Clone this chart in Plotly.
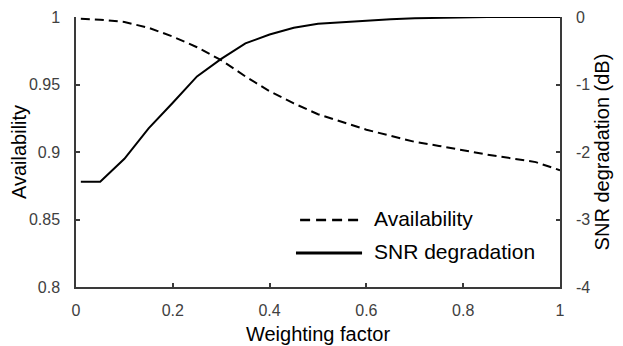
import plotly.graph_objects as go

weighting = [0.01, 0.05, 0.1, 0.15, 0.2, 0.25, 0.3, 0.35, 0.4, 0.45, 0.5,
             0.55, 0.6, 0.65, 0.7, 0.75, 0.8, 0.85, 0.9, 0.95, 1.0]
availability = [0.9987, 0.998, 0.9963, 0.992, 0.9855, 0.9776, 0.968, 0.956,
                0.945, 0.936, 0.928, 0.922, 0.9165, 0.912, 0.9075, 0.9045,
                0.901, 0.898, 0.8953, 0.8925, 0.8865]
snr_degradation = [-2.44, -2.44, -2.1, -1.65, -1.27, -0.88, -0.62, -0.39,
                   -0.26, -0.16, -0.10, -0.075, -0.05, -0.035, -0.02, -0.01,
                   0.0, 0.0, 0.0, 0.0, 0.0]

x_ticks = [0, 0.2, 0.4, 0.6, 0.8, 1]
x_tick_labels = ["0", "0.2", "0.4", "0.6", "0.8", "1"]
y_ticks = [0.8, 0.85, 0.9, 0.95, 1]
y_tick_labels = ["0.8", "0.85", "0.9", "0.95", "1"]
y2_ticks = [-4, -3, -2, -1, 0]
y2_tick_labels = ["-4", "-3", "-2", "-1", "0"]

FONT = "Liberation Sans, Arial, sans-serif"
AXIS_COLOR = "#3a3a3a"
TICK_FONT = dict(family=FONT, size=16, color="#404040")
TITLE_FONT = dict(family=FONT, size=20, color="black")
DASH = "9px,5px"

fig = go.Figure()
fig.add_trace(go.Scatter(x=weighting, y=availability, mode="lines",
                         name="Availability",
                         line=dict(color="black", width=2, dash=DASH),
                         showlegend=False))
fig.add_trace(go.Scatter(x=weighting, y=snr_degradation, mode="lines",
                         name="SNR degradation", yaxis="y2",
                         line=dict(color="black", width=2),
                         showlegend=False))

# legend drawn manually (paper coordinates)
fig.add_shape(type="line", xref="paper", yref="paper", x0=0.463, x1=0.591,
              y0=0.248, y1=0.248, line=dict(color="black", width=2.5, dash="10px,6px"))
fig.add_shape(type="line", xref="paper", yref="paper", x0=0.4545, x1=0.591,
              y0=0.126, y1=0.126, line=dict(color="black", width=3))
fig.add_annotation(xref="paper", yref="paper", x=0.612, y=0.255, text="Availability",
                   showarrow=False, xanchor="left", yanchor="middle",
                   font=dict(family=FONT, size=21, color="black"))
fig.add_annotation(xref="paper", yref="paper", x=0.612, y=0.13, text="SNR degradation",
                   showarrow=False, xanchor="left", yanchor="middle",
                   font=dict(family=FONT, size=21, color="black"))

common = dict(showline=True, linecolor=AXIS_COLOR, linewidth=1.5,
              ticks="inside", ticklen=4, tickcolor=AXIS_COLOR, tickwidth=1.5,
              showgrid=False, zeroline=False, tickfont=TICK_FONT, automargin=False)

fig.update_layout(
    width=615, height=338,
    margin=dict(l=68, r=63, t=9, b=59),
    paper_bgcolor="white", plot_bgcolor="white",
    font=dict(family=FONT, size=16, color="black"),
    xaxis=dict(range=[0, 1], tickvals=x_ticks, ticktext=x_tick_labels,
               ticklabelstandoff=8,
               title=dict(text="Weighting factor", font=TITLE_FONT, standoff=9),
               **common),
    yaxis=dict(range=[0.8, 1], tickvals=y_ticks, ticktext=y_tick_labels,
               ticklabelstandoff=11,
               title=dict(text="Availability", font=TITLE_FONT, standoff=0),
               **common),
    yaxis2=dict(range=[-4, 0], tickvals=y2_ticks, ticktext=y2_tick_labels,
                overlaying="y", side="right",
                ticklabelstandoff=11,
                title=dict(text="SNR degradation (dB)", font=TITLE_FONT, standoff=6),
                **common),
)

fig.write_html("out.html")
